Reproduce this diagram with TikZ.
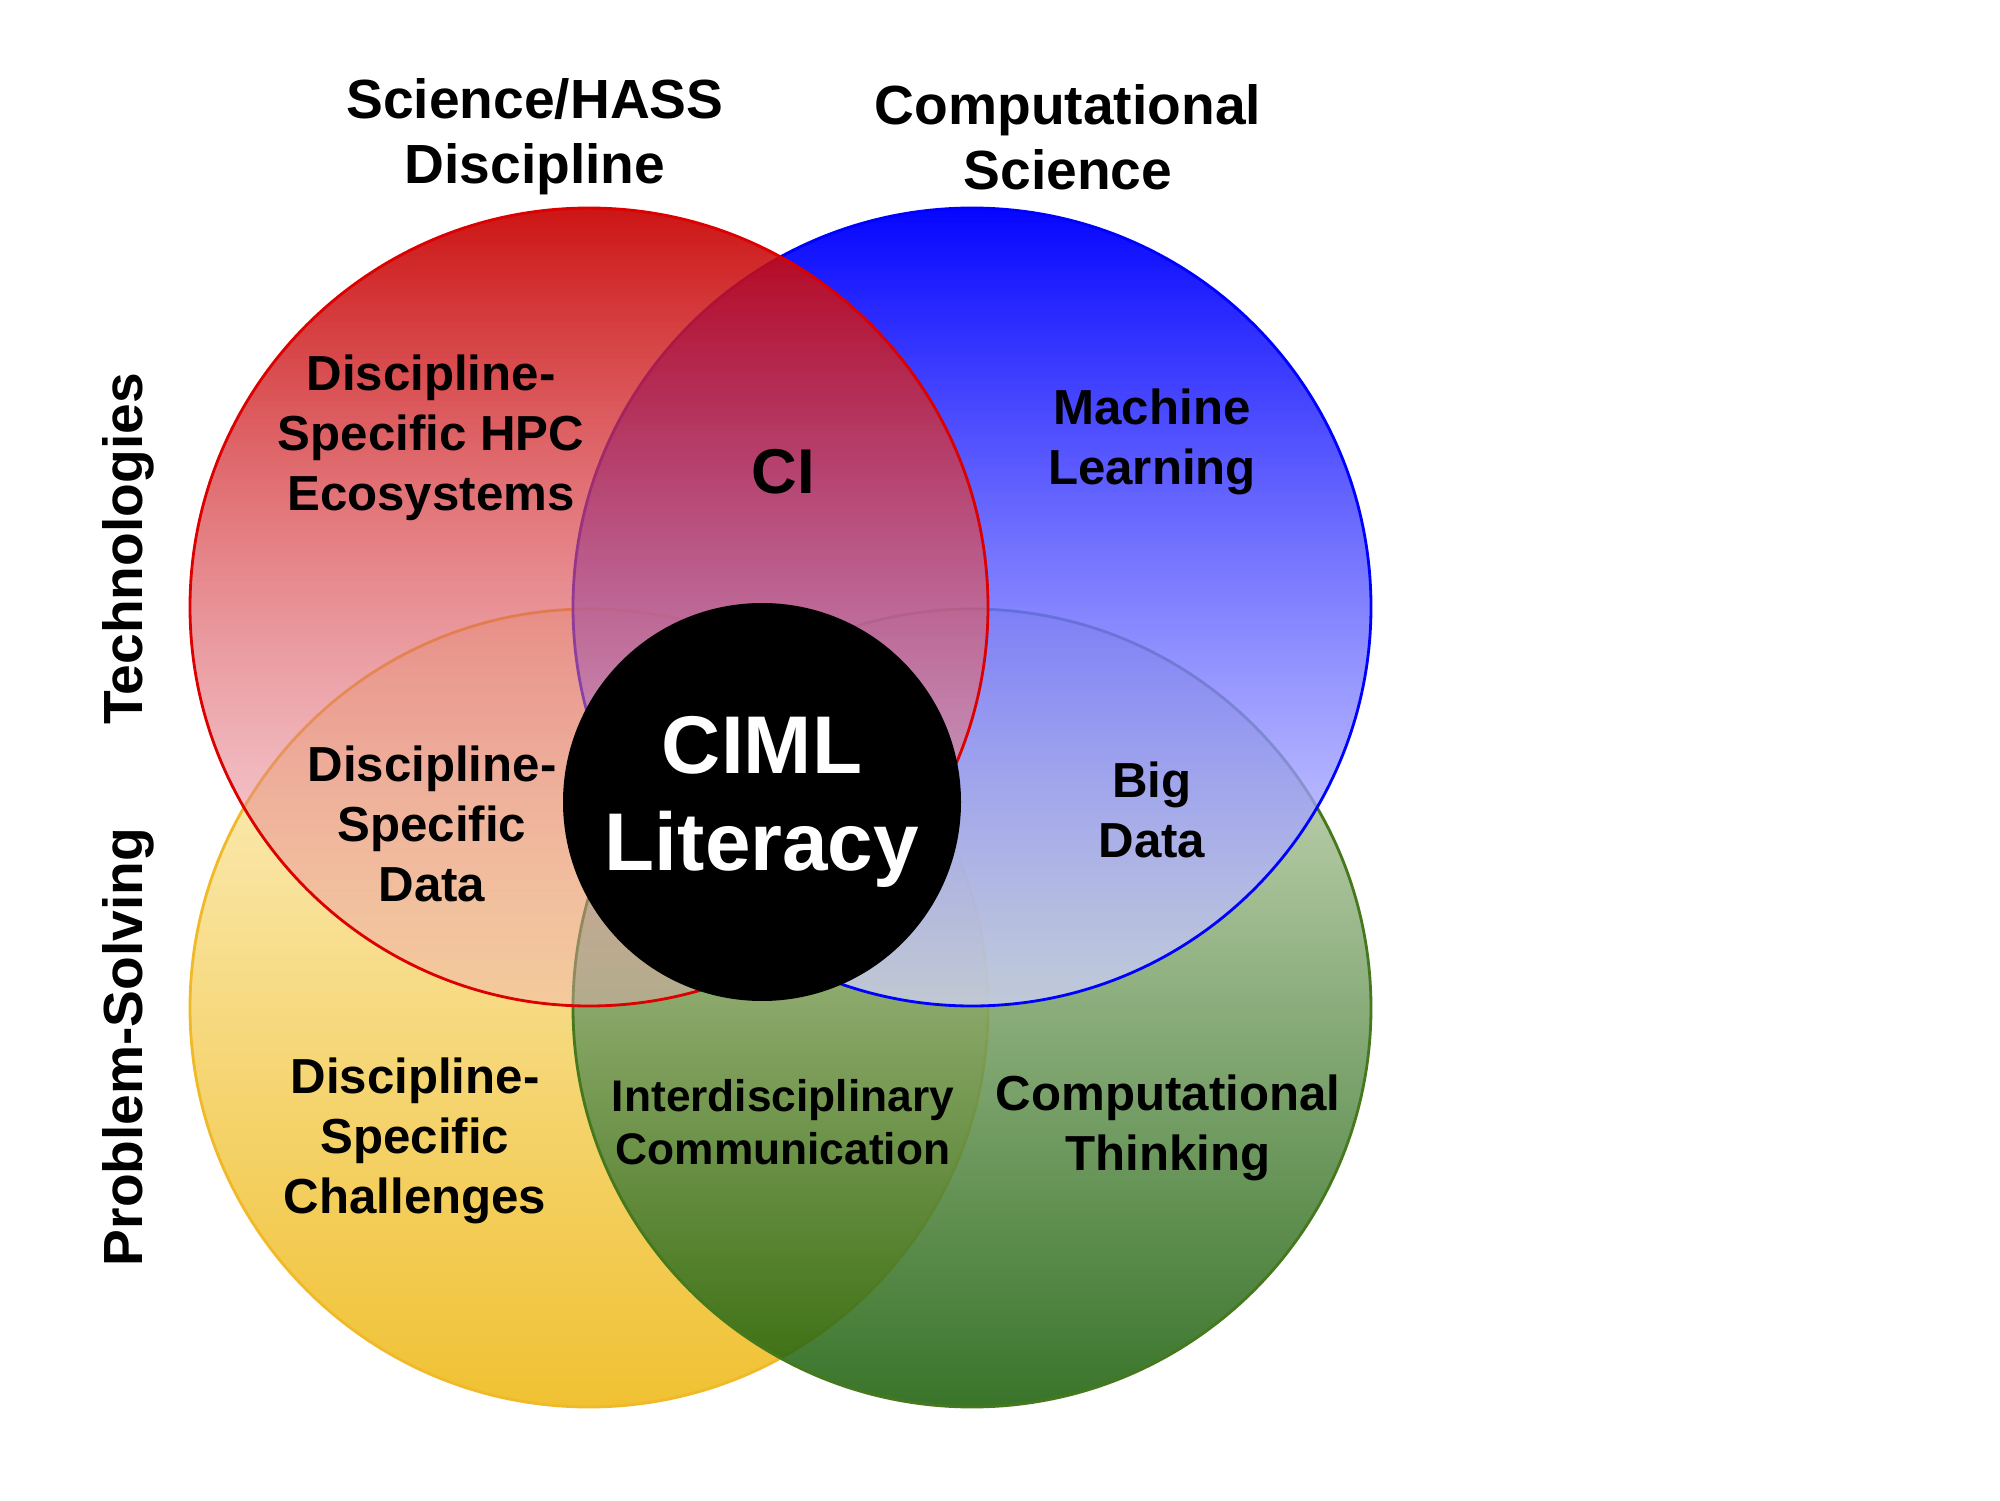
\documentclass[tikz,border=0pt]{standalone}
\usepackage{fontspec}
\setmainfont{Liberation Sans}
\usetikzlibrary{positioning,fadings}
\usepackage{xcolor}

\definecolor{redtop}{RGB}{200,0,0}
\definecolor{redbot}{RGB}{240,178,192}
\definecolor{redline}{RGB}{220,0,0}
\definecolor{bluetop}{RGB}{0,0,255}
\definecolor{bluebot}{RGB}{215,215,255}
\definecolor{yeltop}{RGB}{253,243,208}
\definecolor{yelbot}{RGB}{240,193,50}
\definecolor{yelline}{RGB}{240,185,40}
\definecolor{grntop}{RGB}{214,225,196}
\definecolor{grnbot}{RGB}{22,92,4}
\definecolor{grnline}{RGB}{70,120,30}

\tikzfading[name=redfade,top color=transparent!8,bottom color=transparent!60]
\tikzfading[name=bluefade,top color=transparent!2,bottom color=transparent!30]

\begin{document}
\begin{tikzpicture}[on grid,node distance=4.01cm and 3.83cm,
	venn/.style={circle,minimum size=7.98cm,inner sep=0pt,line width=0.8pt},
	rim/.style={line width=0.8pt},
	area/.style={align=center,font=\fontsize{14}{17}\selectfont\bfseries},
	head/.style={align=center,font=\fontsize{15.7}{18.5}\selectfont\bfseries}]
	\useasboundingbox (0,0) rectangle (20,15);
	% the four sets
	\node[venn,draw=yelline,top color=yeltop,bottom color=yelbot] (yel) at (5.89,4.92) {};
	\node[venn,draw=grnline,top color=grntop,bottom color=grnbot,fill opacity=0.85] (grn) [right=of yel] {};
	\node[venn,top color=bluetop,bottom color=bluebot,path fading=bluefade] (blu) [above=of grn] {};
	\draw[rim,bluetop] (blu.center) circle[radius=3.99cm];
	\node[venn,top color=redtop,bottom color=redbot,path fading=redfade] (red) [above=of yel] {};
	\draw[rim,redline] (red.center) circle[radius=3.99cm];
	\node[circle,fill=black,text=white,minimum size=3.98cm,inner sep=0pt,
		font=\fontsize{23.3}{27.7}\selectfont\bfseries,align=center] (ciml) at (7.62,6.98) {CIML\\Literacy};
	% headings
	\node[head] (hass) at (5.35,13.63) {Science/HASS\\Discipline};
	\node[head] (comp) at (10.68,13.63) {Computational\\Science};
	\node[head,rotate=90] (tech) at (1.28,9.51) {Technologies};
	\node[head,rotate=90] (prob) at (1.28,4.53) {Problem-Solving};
	% regions
	\node[area] (hpc) at (4.31,10.62) {Discipline-\\Specific HPC\\Ecosystems};
	\node[area,font=\fontsize{18}{21}\selectfont\bfseries] (ci) at (7.83,10.28) {CI};
	\node[area] (ml) at (11.52,10.58) {Machine\\Learning};
	\node[area] (dsd) at (4.32,6.76) {Discipline-\\Specific\\Data};
	\node[area] (big) at (11.52,6.90) {Big\\Data};
	\node[area] (dsc) at (4.15,3.59) {Discipline-\\Specific\\Challenges};
	\node[area,font=\fontsize{12.6}{15}\selectfont\bfseries] (inter) at (7.83,3.78) {Interdisciplinary\\Communication};
	\node[area] (ct) at (11.68,3.72) {Computational\\Thinking};
\end{tikzpicture}
\end{document}
